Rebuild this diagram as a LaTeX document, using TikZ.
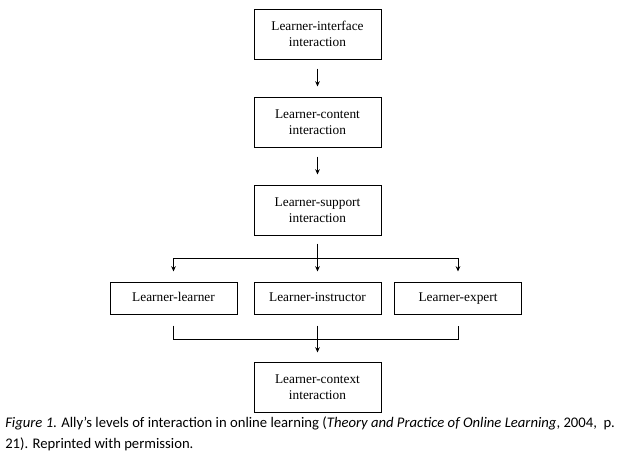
\documentclass[tikz,border=0pt]{standalone}
\usepackage{fontspec}
\setmainfont{Liberation Serif}
\newfontfamily\capfont{Carlito}
\usetikzlibrary{arrows.meta,positioning,calc}

\begin{document}
\begin{tikzpicture}[x=0.75pt,y=-0.75pt,
    levelbox/.style={draw=black,line width=0.75pt,minimum width=95.25pt,minimum height=37.5pt,
      inner sep=0pt,align=center,font=\fontsize{10}{12}\selectfont},
    rowbox/.style={levelbox,minimum height=24pt,text height=7pt,text depth=2pt},
    wire/.style={draw=black,line width=0.75pt},
    flow/.style={wire,-{Stealth[length=4pt,width=3.5pt]}}]
      \fill[white] (0,0) rectangle (618,457);
      \useasboundingbox (0,0) rectangle (618,457);
      % levels
      \node[levelbox] (iface) at (317.5,34) {Learner-interface\\interaction};
      \node[levelbox] (content) at (317.5,122) {Learner-content\\interaction};
      \node[levelbox] (support) at (317.5,210) {Learner-support\\interaction};
      \node[rowbox] (learner) at (173.5,298) {Learner-learner};
      \node[rowbox] (instructor) at (317.5,298) {Learner-instructor};
      \node[rowbox] (expert) at (458,298) {Learner-expert};
      \node[levelbox] (context) at (317.5,387) {Learner-context\\interaction};
      \coordinate (split) at (317.5,258);
      \coordinate (join) at (317.5,339);
      % connectors
      \draw[flow,shorten <=6.75pt,shorten >=7.5pt] (iface) -- (content);
      \draw[flow,shorten <=6.75pt,shorten >=7.5pt] (content) -- (support);
      \draw[flow,shorten <=6pt,shorten >=7.5pt] (support) -- (instructor);
      \draw[wire] (learner |- split) -- (expert |- split);
      \draw[flow,shorten >=7.5pt] (learner |- split) -- (learner);
      \draw[flow,shorten >=7.5pt] (expert |- split) -- (expert);
      \draw[wire,shorten <=8.25pt,shorten >=8.25pt] (learner) -- (learner |- join) -- (expert |- join) -- (expert);
      \draw[flow,shorten <=8.25pt,shorten >=6.75pt] (instructor) -- (context);
      % caption
      \node[anchor=north west,inner sep=0pt,align=left,font=\capfont\fontsize{11}{15.5}\selectfont] (caption) at (5,417)
        {\textit{Figure 1}. Ally’s levels of interaction in online learning (\textit{Theory and Practice of Online Learning}, 2004,~ p.\\
         21). Reprinted with permission.};
\end{tikzpicture}
\end{document}
